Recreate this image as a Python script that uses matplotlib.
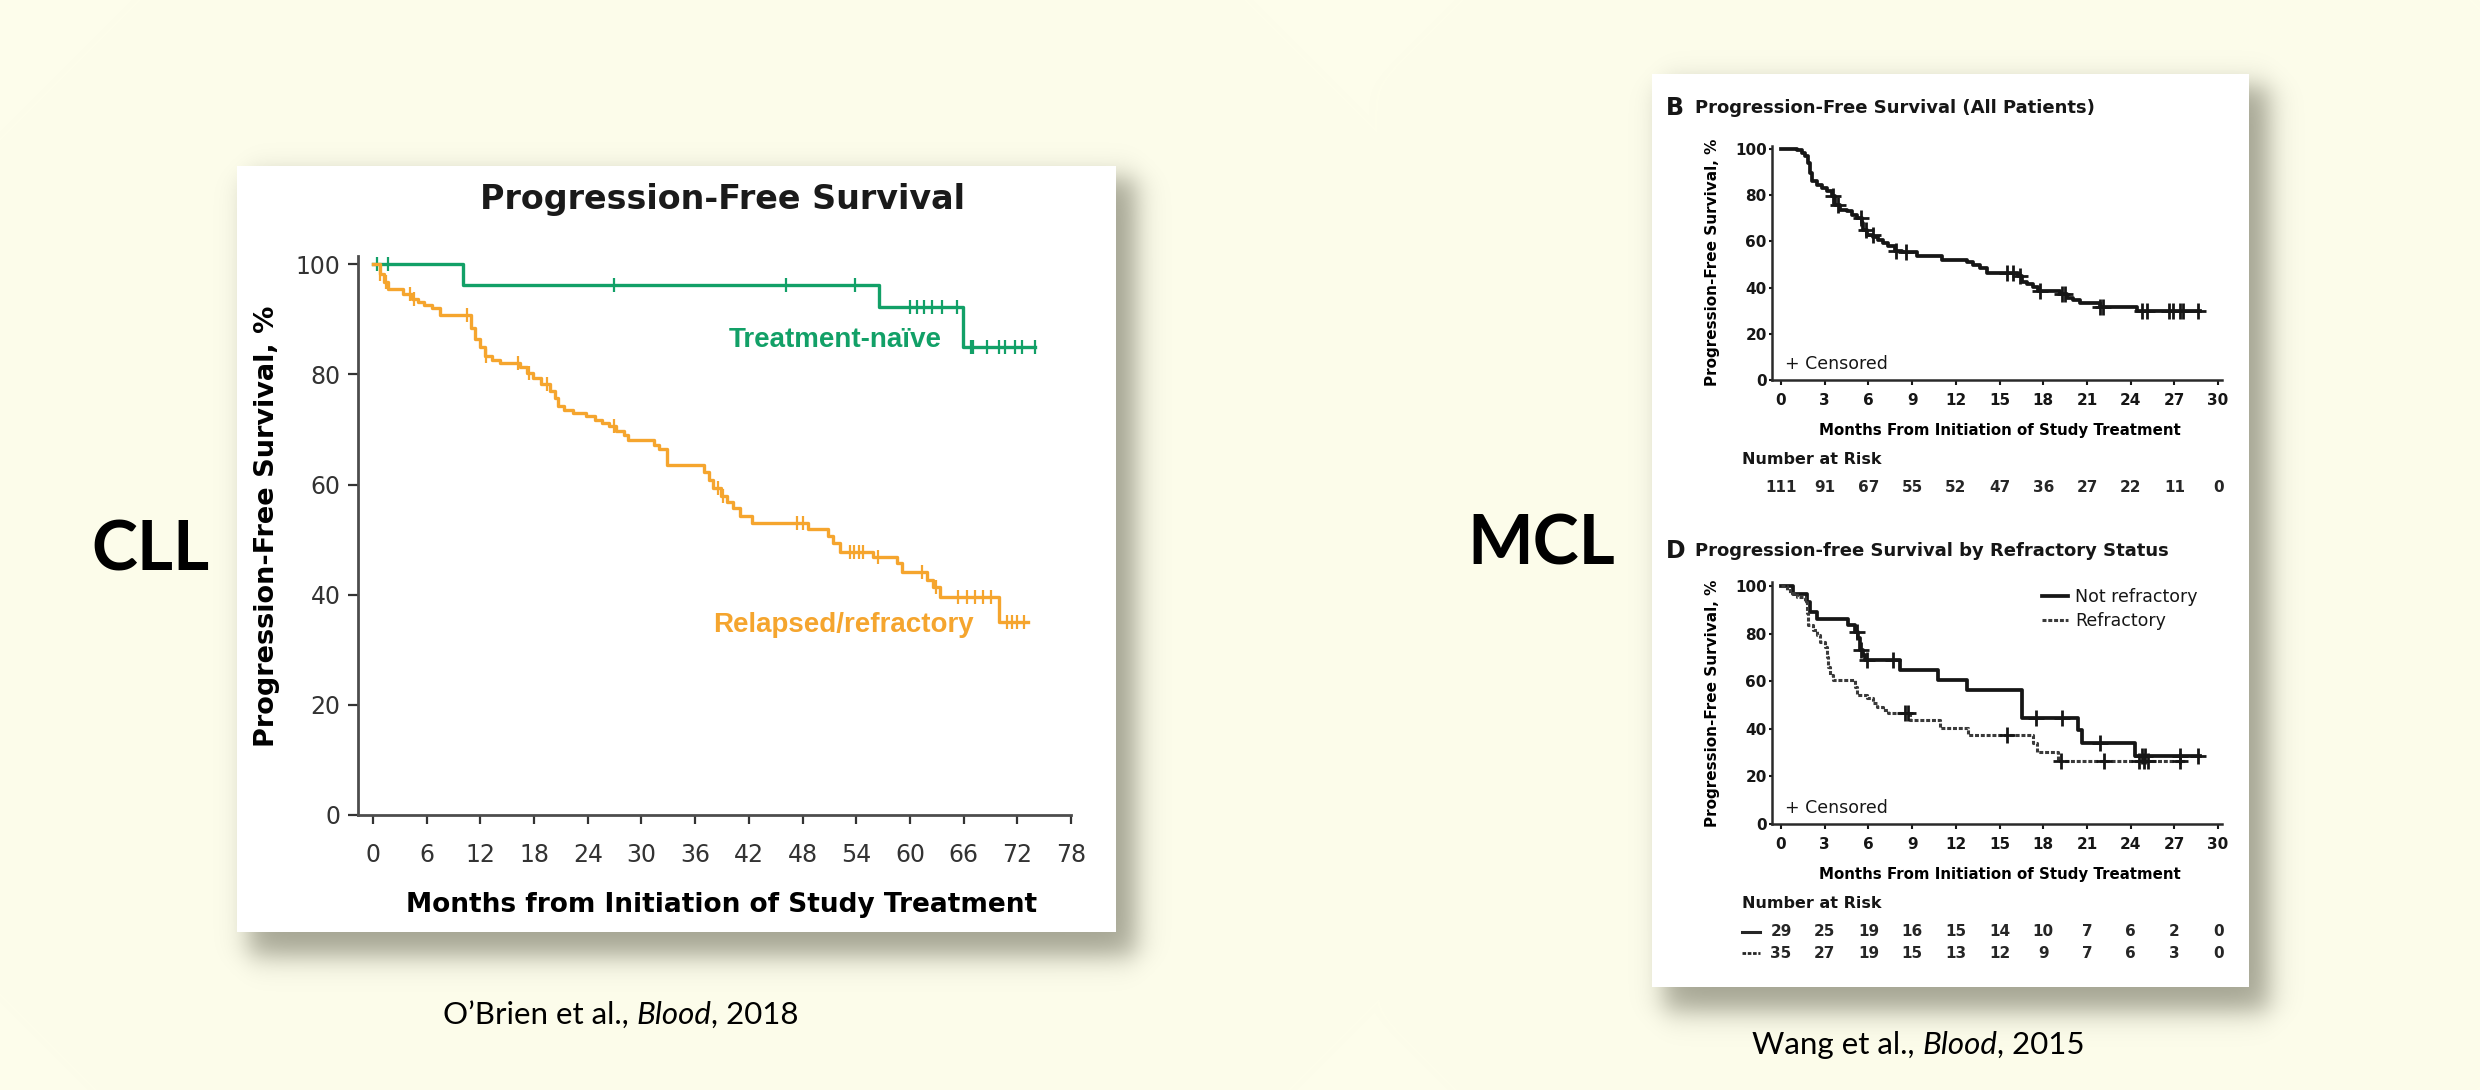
import matplotlib
matplotlib.use("Agg")
import matplotlib.pyplot as plt
from matplotlib.lines import Line2D
from matplotlib.patches import Rectangle
import numpy as np

# ---------------- CLL, O'Brien et al., Blood 2018 ----------------
cll_xticks = list(range(0, 79, 6))
cll_yticks = [0, 20, 40, 60, 80, 100]

# treatment-naive (months, PFS %)
naive_t = [0, 10.0, 56.5, 65.9, 74.0]
naive_s = [100, 96.3, 92.3, 85.0, 85.0]
naive_cens = [0.4, 1.7, 26.9, 46.1, 53.9, 60.0, 60.8, 61.6, 62.5, 63.6, 65.3,
              66.8, 67.1, 68.6, 70.0, 70.6, 71.7, 72.5, 74.0]

# relapsed/refractory
rr_t = [0, 0.8, 1.2, 1.7, 3.4, 4.4, 5.0, 5.7, 6.6, 7.5, 10.9, 11.4, 11.9, 12.5, 13.3,
        14.2, 16.4, 17.2, 17.9, 18.8, 19.8, 20.3, 20.7, 21.3, 22.3, 23.8, 24.8, 25.6, 26.4, 27.2,
        28.0, 28.5, 31.4, 32.0, 32.8, 37.0, 37.5, 38.0, 38.9, 39.6, 40.2, 41.0, 42.3, 48.6, 50.8,
        51.4, 52.2, 55.9, 58.6, 59.1, 61.9, 62.6, 63.4, 70.0, 73.2]
rr_s = [100, 98.3, 96.8, 95.5, 94.6, 93.7, 93.2, 92.6, 92.0, 90.7, 88.5, 86.4, 84.9, 83.4, 82.7,
        82.1, 81.3, 80.3, 79.4, 78.3, 77.0, 75.8, 74.2, 73.6, 73.0, 72.4, 71.8, 71.2, 70.6, 69.8,
        69.0, 68.0, 67.2, 66.4, 63.5, 62.3, 60.8, 59.3, 58.0, 56.9, 55.8, 54.2, 53.0, 52.0, 50.7,
        49.3, 47.7, 46.8, 45.7, 44.1, 42.6, 41.4, 39.6, 35.0, 35.0]
rr_cens = [0.8, 1.5, 4.1, 4.6, 10.5, 12.6, 16.2, 17.4, 19.4, 26.9, 38.6, 39.1, 47.4, 48.0,
           53.3, 53.8, 54.3, 54.8, 56.4, 61.4, 62.9, 65.4, 66.4, 67.3, 68.2, 69.1, 70.8, 71.4,
           72.0, 72.7]

# ---------------- MCL, Wang et al., Blood 2015 ----------------
mcl_xticks = list(range(0, 31, 3))
mcl_yticks = [0, 20, 40, 60, 80, 100]

# B: all patients
all_t = [0, 1.08, 1.42, 1.65, 1.88, 1.99, 2.1, 2.45, 2.79, 3.13, 3.48, 3.71, 4.05, 4.51, 4.85,
         5.19, 5.54, 5.65, 5.88, 6.34, 6.68, 7.03, 7.37, 7.83, 8.28, 9.31, 11.03, 12.75, 13.2,
         13.66, 14.12, 16.29, 16.52, 16.86, 17.32, 17.67, 19.15, 19.61, 20.07, 20.53, 21.9,
         24.42, 28.76]
all_s = [100, 99.4, 98.3, 96.8, 94.0, 89.6, 86.0, 84.5, 83.0, 81.6, 79.5, 75.8, 73.7, 73.0, 71.5,
         70.0, 68.0, 65.0, 62.9, 62.1, 60.7, 59.2, 57.8, 56.0, 55.2, 53.8, 52.0, 51.0, 49.9,
         48.4, 46.5, 45.1, 42.6, 41.6, 40.2, 38.7, 37.3, 35.4, 34.7, 33.2, 31.8, 29.9, 29.9]
all_cens = [3.6, 3.9, 5.5, 5.8, 6.3, 7.9, 8.6, 15.5, 15.9, 16.4, 17.8, 19.3, 19.5, 21.9, 22.1,
            24.8, 25.1, 26.6, 26.9, 27.4, 27.6, 28.6]
all_risk = [111, 91, 67, 55, 52, 47, 36, 27, 22, 11, 0]

# D: by refractory status
nr_t = [0, 0.85, 1.81, 1.99, 2.45, 4.62, 5.08, 5.31, 5.42, 5.65, 5.77, 8.17, 10.8, 12.75,
        16.52, 20.41, 20.64, 24.3, 28.76]
nr_s = [100, 96.6, 93.1, 89.2, 86.0, 83.6, 80.8, 78.0, 73.1, 71.0, 68.9, 64.7, 60.5, 56.3,
        44.4, 39.5, 34.2, 28.6, 28.6]
nr_cens = [5.2, 5.5, 5.9, 7.7, 17.5, 19.3, 21.9, 24.8, 25.0, 27.4, 28.6]
nr_risk = [29, 25, 19, 16, 15, 14, 10, 7, 6, 2, 0]

rf_t = [0, 0.39, 0.62, 1.08, 1.65, 1.76, 1.88, 2.22, 2.45, 2.68, 3.02, 3.13, 3.25, 3.36, 3.59,
        5.08, 5.19, 5.88, 6.34, 6.57, 7.03, 7.37, 8.86, 10.92, 12.86, 17.32, 17.55, 19.04, 27.73]
rf_s = [100, 98.3, 96.9, 95.5, 93.4, 88.5, 83.6, 81.5, 79.4, 76.6, 74.5, 70.3, 66.1, 62.6, 60.5,
        57.7, 54.2, 52.8, 50.7, 49.3, 47.9, 46.5, 43.7, 40.2, 37.4, 33.9, 30.4, 26.6, 26.6]
rf_cens = [8.5, 8.7, 15.5, 19.2, 22.2, 24.6, 24.9, 25.2, 27.4]
rf_risk = [35, 27, 19, 15, 13, 12, 9, 7, 6, 3, 0]

GREEN = "#12a067"
ORANGE = "#f5a52e"
INK = "#161616"
W, H = 2480, 1090


def surv_at(times, surv, pts):
    idx = np.searchsorted(times, pts, side="right") - 1
    return np.asarray(surv)[idx]


fig = plt.figure(figsize=(W / 100, H / 100), dpi=100)

# slide background with soft drop shadows behind the two figure panels
ax_bg = fig.add_axes([0, 0, 1, 1], zorder=-1)
ax_bg.set_xlim(0, W)
ax_bg.set_ylim(H, 0)
ax_bg.axis("off")

panels = [(237, 166, 1116, 932), (1652, 74, 2249, 987)]
xx = np.arange(W)[None, :] + 0.5
yy = np.arange(H)[:, None] + 0.5
sig = lambda z: 1 / (1 + np.exp(-z))
alpha = np.zeros((H, W))
for l, t, r, b in panels:
    s = 8
    a = sig((xx - l - 12) / s) * sig((r + 20 - xx) / s) * sig((yy - t - 12) / s) * sig((b + 24 - yy) / s)
    alpha = np.maximum(alpha, 0.62 * a)
bg = np.array([253, 253, 235]) / 255
sh = np.array([110, 110, 92]) / 255
img = bg * (1 - alpha[..., None]) + sh * alpha[..., None]
ax_bg.imshow(img, extent=(0, W, H, 0), aspect="auto", interpolation="bilinear")
for l, t, r, b in panels:
    ax_bg.add_patch(Rectangle((l, t), r - l, b - t, facecolor="white", edgecolor="none"))


def add_axes_px(box):
    l, t, r, b = box
    ax = fig.add_axes([l / W, 1 - b / H, (r - l) / W, (b - t) / H])
    ax.patch.set_visible(False)
    for side in ["top", "right"]:
        ax.spines[side].set_visible(False)
    return ax


def frac(box, x_px, y_px):
    l, t, r, b = box
    return (x_px - l) / (r - l), (b - y_px) / (b - t)


# ---------------- CLL panel ----------------
cll_box = (358, 256, 1071, 815)
ax = add_axes_px(cll_box)
ax.set_xlim(-1.68, 78)
ax.set_ylim(0, 101.5)
ax.step(naive_t, naive_s, where="post", color=GREEN, lw=2.4, clip_on=False)
ax.plot(naive_cens, surv_at(naive_t, naive_s, naive_cens), ls="none", marker="|",
        ms=10, mew=1.6, color=GREEN, clip_on=False)
ax.step(rr_t, rr_s, where="post", color=ORANGE, lw=2.4, clip_on=False)
ax.plot(rr_cens, surv_at(rr_t, rr_s, rr_cens), ls="none", marker="|",
        ms=10, mew=1.6, color=ORANGE, clip_on=False)
for side in ["left", "bottom"]:
    ax.spines[side].set_linewidth(2)
    ax.spines[side].set_color("#4d4d4d")
ax.set_xticks(cll_xticks)
ax.set_yticks(cll_yticks)
ax.tick_params(labelsize=17, colors="#333333", width=1.6)
ax.tick_params(axis="x", length=6.5, pad=14)
ax.tick_params(axis="y", length=7, pad=5.5)
ax.set_xlabel("Months from Initiation of Study Treatment", fontsize=19, fontweight="bold")
ax.xaxis.set_label_coords(*frac(cll_box, 722, 905))
ax.xaxis.label.set_va("center")
ax.set_ylabel("Progression-Free Survival, %", fontsize=19.5, fontweight="bold")
ax.yaxis.set_label_coords(*frac(cll_box, 267, 526))
ax.yaxis.label.set_va("center")
ax.text(39.7, 86.2, "Treatment-naïve", color=GREEN, fontsize=20, fontweight="bold",
        family="Liberation Sans", va="center")
ax.text(38.0, 34.5, "Relapsed/refractory", color=ORANGE, fontsize=20, fontweight="bold",
        family="Liberation Sans", va="center")
ax_bg.text(722, 200, "Progression-Free Survival", fontsize=24, fontweight="bold",
           ha="center", va="center", color="#1a1a1a")


# ---------------- MCL panels ----------------
def mcl_axes(box):
    ax = add_axes_px(box)
    ax.set_xlim(-0.62, 30.27)
    ax.set_ylim(0, 101.5)
    for side in ["left", "bottom"]:
        ax.spines[side].set_linewidth(1.8)
        ax.spines[side].set_color("#2a2a2a")
    ax.set_xticks(mcl_xticks)
    ax.set_yticks(mcl_yticks)
    ax.tick_params(labelsize=11, colors=INK, width=1.5)
    for lab in ax.get_xticklabels() + ax.get_yticklabels():
        lab.set_fontweight("bold")
    ax.tick_params(axis="x", length=3.8, pad=5.5)
    ax.tick_params(axis="y", length=2.5, pad=1.2)
    l, t, r, b = box
    ax.set_xlabel("Months From Initiation of Study Treatment", fontsize=10.8, fontweight="bold")
    ax.xaxis.set_label_coords(*frac(box, 2000, b + 50))
    ax.xaxis.label.set_va("center")
    ax.set_ylabel("Progression-Free Survival, %", fontsize=11, fontweight="bold")
    ax.yaxis.set_label_coords(*frac(box, 1713, (t + b) / 2))
    ax.yaxis.label.set_va("center")
    ax.text(0.27, frac(box, 0, b - 16)[1] * 101.5, "+ Censored", fontsize=12.5,
            va="center", color=INK)
    ax.text(*frac(box, 1742, b + 80), "Number at Risk", transform=ax.transAxes,
            fontsize=11.5, fontweight="bold", va="center", color=INK)
    return ax


def km(ax, t, s, cens, **kw):
    line, = ax.step(t, s, where="post", color=INK, lw=2.7, clip_on=False, **kw)
    ax.plot(cens, surv_at(t, s, cens), ls="none", marker="+", ms=11, mew=2.0,
            color=INK, clip_on=False)
    return line


def risk_row(ax, box, counts, y_px):
    for m, n in zip(mcl_xticks, counts):
        ax.text(m, frac(box, 0, y_px)[1], str(n), transform=ax.get_xaxis_transform(),
                fontsize=11, fontweight="bold", ha="center", va="center", color="#262626")


b_box = (1772, 145.5, 2222, 380)
axb = mcl_axes(b_box)
km(axb, all_t, all_s, all_cens)
risk_row(axb, b_box, all_risk, 487)
ax_bg.text(1666, 108, "B", fontsize=17, fontweight="bold", va="center", color=INK)
ax_bg.text(1695, 108, "Progression-Free Survival (All Patients)", fontsize=13,
           fontweight="bold", va="center", color=INK)

d_box = (1772, 582.4, 2222, 824)
axd = mcl_axes(d_box)
l_nr = km(axd, nr_t, nr_s, nr_cens)
l_rf = km(axd, rf_t, rf_s, rf_cens, ls=(0, (1.3, 0.6)))
l_rf.set_linewidth(2.2)
l_rf.set_color("#3a3a3a")
axd.legend([l_nr, l_rf], ["Not refractory", "Refractory"], loc="upper left",
           bbox_to_anchor=(0.6, 0.975), frameon=False, fontsize=12.5, handlelength=1.5,
           handletextpad=0.4, borderaxespad=0, borderpad=0, labelspacing=0.3,
           labelcolor=INK)
risk_row(axd, d_box, nr_risk, 932)
risk_row(axd, d_box, rf_risk, 953)
for y_px, style, lw in [(932, "-", 2.2), (953, (0, (1.3, 0.6)), 2.0)]:
    yf = frac(d_box, 0, y_px)[1]
    axd.add_line(Line2D([-0.0667, -0.0267], [yf, yf], transform=axd.transAxes, ls=style,
                        lw=lw, color="#262626", clip_on=False))
ax_bg.text(1666, 551, "D", fontsize=17, fontweight="bold", va="center", color=INK)
ax_bg.text(1695, 551, "Progression-free Survival by Refractory Status", fontsize=13,
           fontweight="bold", va="center", color=INK)

# ---------------- slide labels and citations ----------------
ax_bg.text(150, 551, "CLL", fontsize=50, fontweight="bold", family=["Lato", "DejaVu Sans"],
           ha="center", va="center", color="black")
ax_bg.text(1541, 545, "MCL", fontsize=50, fontweight="bold", family=["Lato", "DejaVu Sans"],
           ha="center", va="center", color="black")


def citation(x, y, before, after):
    kw = dict(fontsize=22.5, family=["Lato", "DejaVu Sans"], color="black")
    t1 = ax_bg.text(x, y, before, va="center", ha="left", **kw)
    t2 = ax_bg.annotate("Blood", xy=(1, 0), xycoords=t1, xytext=(5.5, 0),
                        textcoords="offset points", va="bottom", ha="left", style="italic", **kw)
    ax_bg.annotate(after, xy=(1, 0), xycoords=t2, va="bottom", ha="left", **kw)


citation(443, 1015, "O’Brien et al.,", ", 2018")
citation(1752, 1045, "Wang et al.,", ", 2015")

fig.savefig("out.png", dpi=100, facecolor=fig.get_facecolor())
